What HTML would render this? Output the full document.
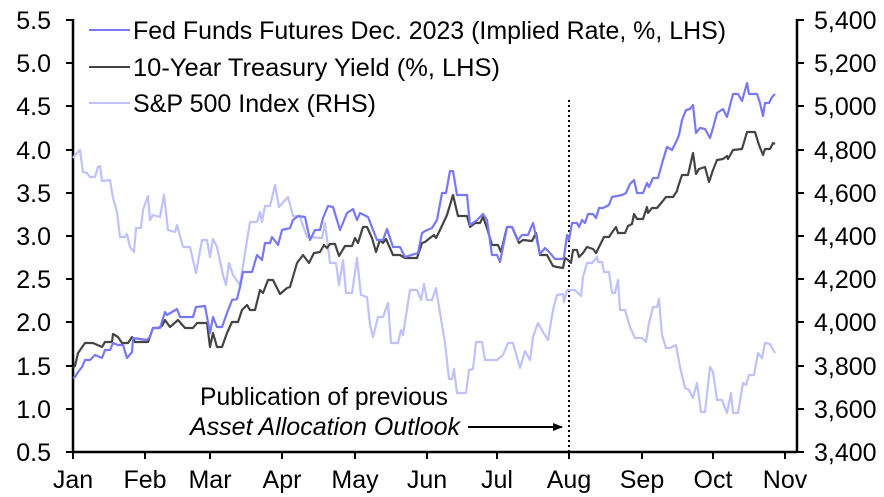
<!DOCTYPE html>
<html><head><meta charset="utf-8"><style>
html,body{margin:0;padding:0;background:#fff}
svg{display:block}
text{font-family:"Liberation Sans",Arial,sans-serif;font-size:25px;fill:#000}
</style></head><body>
<svg width="884" height="497" viewBox="0 0 884 497">
<defs><marker id="ah" markerWidth="10" markerHeight="8" refX="9" refY="4" orient="auto" markerUnits="userSpaceOnUse"><path d="M0,0 L10,4 L0,8 Z" fill="#000"/></marker></defs>
<g stroke="#000" stroke-width="2.5" fill="none">
<line x1="73" y1="19" x2="73" y2="453"/>
<line x1="72" y1="452" x2="797" y2="452"/>
<line x1="797" y1="19" x2="797" y2="453"/>
</g>
<g stroke="#000" stroke-width="2">
<line x1="66" y1="20" x2="73" y2="20"/><line x1="66" y1="63" x2="73" y2="63"/><line x1="66" y1="106" x2="73" y2="106"/><line x1="66" y1="150" x2="73" y2="150"/><line x1="66" y1="193" x2="73" y2="193"/><line x1="66" y1="236" x2="73" y2="236"/><line x1="66" y1="279" x2="73" y2="279"/><line x1="66" y1="322" x2="73" y2="322"/><line x1="66" y1="366" x2="73" y2="366"/><line x1="66" y1="409" x2="73" y2="409"/><line x1="66" y1="452" x2="73" y2="452"/>
<line x1="797" y1="20" x2="804" y2="20"/><line x1="797" y1="63" x2="804" y2="63"/><line x1="797" y1="106" x2="804" y2="106"/><line x1="797" y1="150" x2="804" y2="150"/><line x1="797" y1="193" x2="804" y2="193"/><line x1="797" y1="236" x2="804" y2="236"/><line x1="797" y1="279" x2="804" y2="279"/><line x1="797" y1="322" x2="804" y2="322"/><line x1="797" y1="366" x2="804" y2="366"/><line x1="797" y1="409" x2="804" y2="409"/><line x1="797" y1="452" x2="804" y2="452"/>
<line x1="73" y1="452" x2="73" y2="459"/><line x1="145" y1="452" x2="145" y2="459"/><line x1="210" y1="452" x2="210" y2="459"/><line x1="282" y1="452" x2="282" y2="459"/><line x1="355" y1="452" x2="355" y2="459"/><line x1="427" y1="452" x2="427" y2="459"/><line x1="497" y1="452" x2="497" y2="459"/><line x1="569" y1="452" x2="569" y2="459"/><line x1="642" y1="452" x2="642" y2="459"/><line x1="713" y1="452" x2="713" y2="459"/><line x1="785" y1="452" x2="785" y2="459"/>
</g>
<g text-anchor="end">
<text x="51" y="29">5.5</text><text x="51" y="72">5.0</text><text x="51" y="115">4.5</text><text x="51" y="159">4.0</text><text x="51" y="202">3.5</text><text x="51" y="245">3.0</text><text x="51" y="288">2.5</text><text x="51" y="331">2.0</text><text x="51" y="375">1.5</text><text x="51" y="418">1.0</text><text x="51" y="461">0.5</text>
</g>
<g text-anchor="start">
<text x="814" y="29">5,400</text><text x="814" y="72">5,200</text><text x="814" y="115">5,000</text><text x="814" y="159">4,800</text><text x="814" y="202">4,600</text><text x="814" y="245">4,400</text><text x="814" y="288">4,200</text><text x="814" y="331">4,000</text><text x="814" y="375">3,800</text><text x="814" y="418">3,600</text><text x="814" y="461">3,400</text>
</g>
<g text-anchor="middle">
<text x="73" y="488">Jan</text><text x="145" y="488">Feb</text><text x="210" y="488">Mar</text><text x="282" y="488">Apr</text><text x="355" y="488">May</text><text x="427" y="488">Jun</text><text x="497" y="488">Jul</text><text x="569" y="488">Aug</text><text x="642" y="488">Sep</text><text x="713" y="488">Oct</text><text x="785" y="488">Nov</text>
</g>
<line x1="569" y1="100" x2="569" y2="452" stroke="#000" stroke-width="2" stroke-dasharray="2,3"/>
<polyline fill="none" stroke="#c0c0fa" stroke-width="2.2" stroke-linejoin="round" points="73,158 75,155 80,150 83,172 87,173 90,177 95,177 98,167 100,166 102,181 110,180 113,198 117,212 120,237 125,237 127,234 130,247 134,252 136,228 141,228 143,210 148,196 150,220 153,215 160,217 164,195 168,230 175,232 177,225 183,247 190,247 196,273 202,240 207,240 210,257 213,239 217,247 223,275 226,285 229,263 233,275 240,285 245,253 250,222 257,222 260,212 262,222 265,206 270,206 275,185 279,207 288,197 293,216 300,217 307,237 322,238 325,223 330,263 336,263 339,285 343,260 346,293 352,293 357,258 361,295 367,297 370,325 373,337 378,317 383,317 388,303 391,343 398,343 401,330 403,335 410,290 417,290 421,300 424,284 427,300 432,300 436,288 440,313 445,343 449,379 452,379 454,369 457,393 466,393 469,370 473,369 476,342 482,342 485,360 497,360 503,355 508,343 513,343 520,368 525,351 530,360 533,337 538,323 543,332 548,340 553,310 557,295 563,294 564,302 567,290 575,290 581,296 583,277 587,263 592,263 597,257 598,262 602,262 604,272 609,272 612,293 615,293 618,280 620,310 625,310 630,327 635,338 642,338 646,342 649,323 653,307 657,307 659,299 662,335 666,348 670,348 676,345 680,367 685,388 689,390 693,398 697,383 701,412 705,412 710,367 713,372 717,400 722,400 727,413 731,393 733,413 738,413 743,383 746,385 749,375 754,375 758,353 762,358 765,343 770,344 775,353"/>
<polyline fill="none" stroke="#444" stroke-width="2.2" stroke-linejoin="round" points="73,368 75,366 78,353 85,343 93,343 102,347 105,342 112,342 113,334 118,337 122,343 128,343 132,337 135,342 148,342 153,328 158,328 162,326 165,320 170,327 178,320 185,328 193,328 197,323 207,323 210,347 213,333 217,347 222,347 227,333 232,322 238,322 242,310 247,305 250,310 255,310 260,290 263,293 268,280 273,280 280,294 287,288 290,287 297,263 303,255 309,263 314,253 320,252 324,245 327,248 330,244 335,244 339,256 345,246 352,246 355,238 358,243 363,227 367,227 372,238 376,252 380,240 383,243 386,239 393,255 400,255 405,258 417,258 422,243 425,242 430,238 434,235 436,238 440,230 447,215 453,195 458,216 467,216 470,227 475,223 480,223 483,217 487,228 492,245 498,245 501,252 507,227 512,227 519,243 523,240 532,241 536,233 540,255 547,255 553,266 557,267 563,268 565,258 568,260 571,263 573,250 577,250 579,257 583,253 587,247 593,249 596,253 600,245 604,237 609,237 613,231 616,227 618,233 625,233 628,226 632,224 634,214 637,219 643,219 647,207 648,213 652,208 657,208 662,202 666,197 673,197 677,191 678,187 682,175 688,175 693,153 696,174 699,169 705,167 709,182 713,170 717,160 723,159 727,156 728,159 733,150 742,149 747,132 755,132 759,145 763,155 765,149 770,149 773,143 775,144"/>
<polyline fill="none" stroke="#7878f5" stroke-width="2.2" stroke-linejoin="round" points="73,378 75,377 78,372 82,367 85,360 90,360 95,355 102,358 105,350 110,350 113,343 118,345 123,345 127,358 132,352 133,338 140,339 147,340 150,337 153,328 160,328 165,312 167,315 177,309 180,317 193,317 196,307 205,306 207,317 210,333 213,317 217,327 222,327 227,313 232,300 237,299 240,287 243,272 252,272 257,255 262,260 265,243 270,243 272,237 278,245 282,230 290,228 293,220 298,216 305,217 310,240 315,230 320,230 323,218 328,206 333,207 340,230 347,213 353,209 357,220 360,213 368,217 377,240 383,240 387,229 393,247 400,247 405,257 418,253 422,233 425,231 432,228 437,220 442,193 446,193 450,171 453,171 457,195 467,195 470,225 477,220 483,214 487,220 492,255 497,255 500,262 507,227 512,227 518,240 522,235 528,235 533,223 540,254 545,248 550,253 555,259 563,259 564,257 567,235 569,240 572,223 577,223 579,227 582,220 585,223 588,214 593,214 596,218 599,208 603,208 609,205 612,197 617,196 622,195 626,193 630,184 634,180 637,193 643,193 647,183 649,187 653,178 658,178 663,160 667,147 672,150 677,140 679,135 682,120 686,110 690,109 693,105 696,133 700,128 705,129 710,138 713,128 717,113 723,109 727,117 733,94 738,94 742,101 747,83 749,94 757,94 760,103 763,116 765,103 769,103 772,97 775,94"/>
<line x1="89" y1="30" x2="130" y2="30" stroke="#7878f5" stroke-width="2"/>
<line x1="89" y1="67" x2="130" y2="67" stroke="#444" stroke-width="2"/>
<line x1="89" y1="103" x2="130" y2="103" stroke="#c0c0fa" stroke-width="2"/>
<text x="133" y="39" textLength="593" lengthAdjust="spacingAndGlyphs">Fed Funds Futures Dec. 2023 (Implied Rate, %, LHS)</text>
<text x="133" y="76" textLength="367" lengthAdjust="spacingAndGlyphs">10-Year Treasury Yield (%, LHS)</text>
<text x="133" y="112" textLength="243" lengthAdjust="spacingAndGlyphs">S&amp;P 500 Index (RHS)</text>
<text x="324" y="405" text-anchor="middle" textLength="248" lengthAdjust="spacingAndGlyphs">Publication of previous</text>
<text x="460" y="435" text-anchor="end" font-style="italic" textLength="270" lengthAdjust="spacingAndGlyphs">Asset Allocation Outlook</text>
<line x1="468" y1="427" x2="562" y2="427" stroke="#000" stroke-width="2" marker-end="url(#ah)"/>
</svg>
</body></html>
